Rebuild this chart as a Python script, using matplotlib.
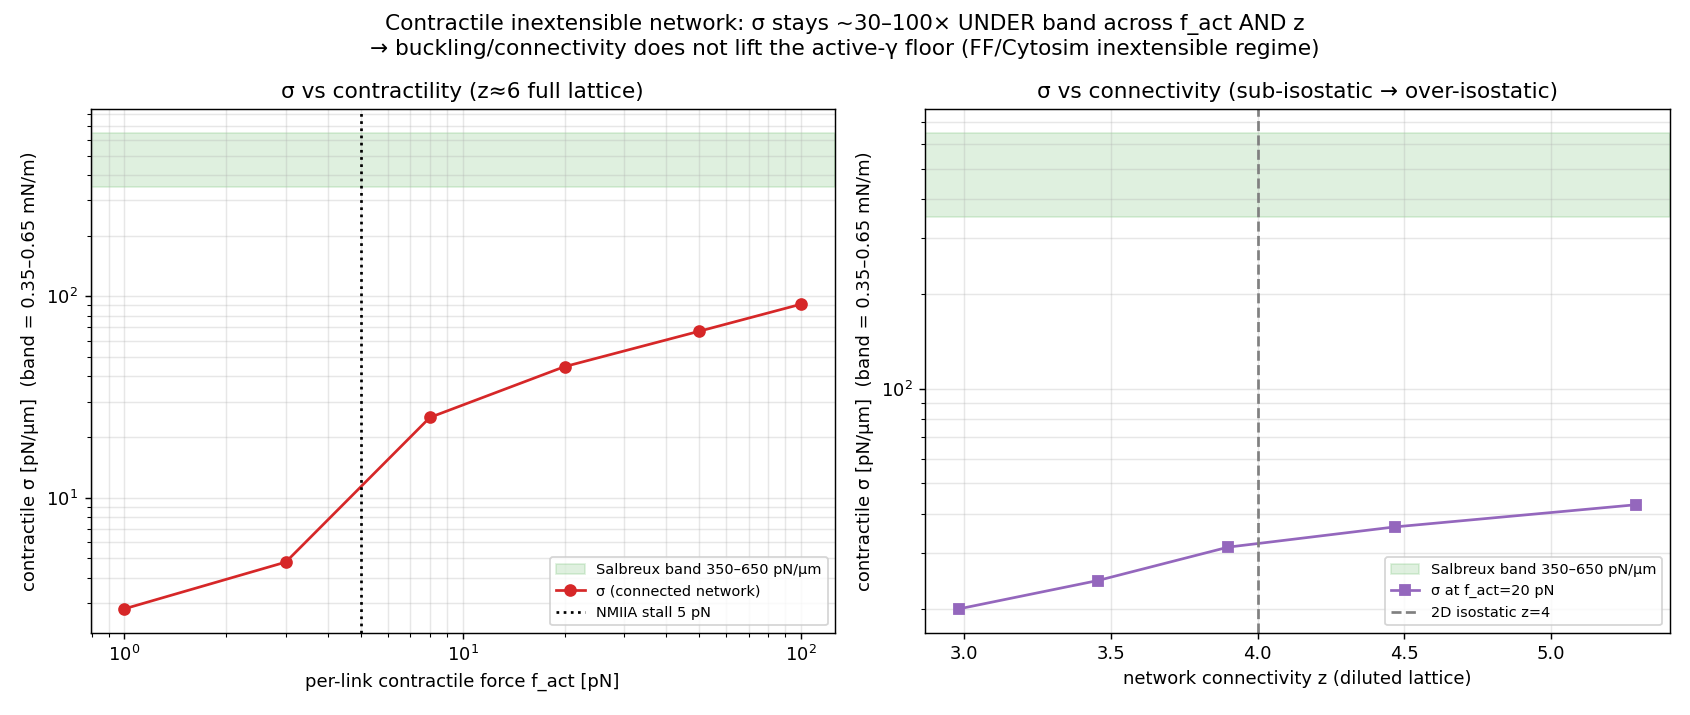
import matplotlib
matplotlib.use("Agg")
import matplotlib.pyplot as plt
import numpy as np

# data
band_lo, band_hi = 350, 650   # Salbreux band, pN/um

f_act = [1, 3, 8, 20, 50, 100]               # pN
sigma_f = [2.80, 4.78, 25.0, 44.7, 67.0, 91.3]

z_conn = [2.983, 3.456, 3.900, 4.468, 5.289]
sigma_z = [20.0, 24.6, 31.4, 36.4, 42.8]

fig, (ax1, ax2) = plt.subplots(1, 2, figsize=(13, 5.5), dpi=130)

# left panel: sigma vs contractility
ax1.axhspan(band_lo, band_hi, color="tab:green", alpha=0.15,
            label="Salbreux band 350–650 pN/µm")
ax1.plot(f_act, sigma_f, "o-", color="tab:red", label="σ (connected network)")
ax1.axvline(5, color="k", ls=":", label="NMIIA stall 5 pN")
ax1.set_xscale("log")
ax1.set_yscale("log")
ax1.set_xlabel("per-link contractile force f_act [pN]")
ax1.set_ylabel("contractile σ [pN/µm]  (band = 0.35–0.65 mN/m)")
ax1.set_title("σ vs contractility (z≈6 full lattice)")
ax1.grid(True, which="both", alpha=0.3)
ax1.legend(fontsize=8, loc="lower right")

# right panel: sigma vs connectivity
ax2.axhspan(band_lo, band_hi, color="tab:green", alpha=0.15,
            label="Salbreux band 350–650 pN/µm")
ax2.plot(z_conn, sigma_z, "s-", color="tab:purple", label="σ at f_act=20 pN")
ax2.axvline(4, color="gray", ls="--", label="2D isostatic z=4")
ax2.set_yscale("log")
ax2.set_xlabel("network connectivity z (diluted lattice)")
ax2.set_ylabel("contractile σ [pN/µm]  (band = 0.35–0.65 mN/m)")
ax2.set_title("σ vs connectivity (sub-isostatic → over-isostatic)")
ax2.grid(True, which="both", alpha=0.3)
ax2.legend(fontsize=8, loc="lower right")

fig.suptitle("Contractile inextensible network: σ stays ~30–100× UNDER band across f_act AND z\n"
             "→ buckling/connectivity does not lift the active-γ floor (FF/Cytosim inextensible regime)")
fig.subplots_adjust(left=0.0536, right=0.9879, top=0.8478, bottom=0.1152, wspace=0.1217)
fig.savefig("out.png")
